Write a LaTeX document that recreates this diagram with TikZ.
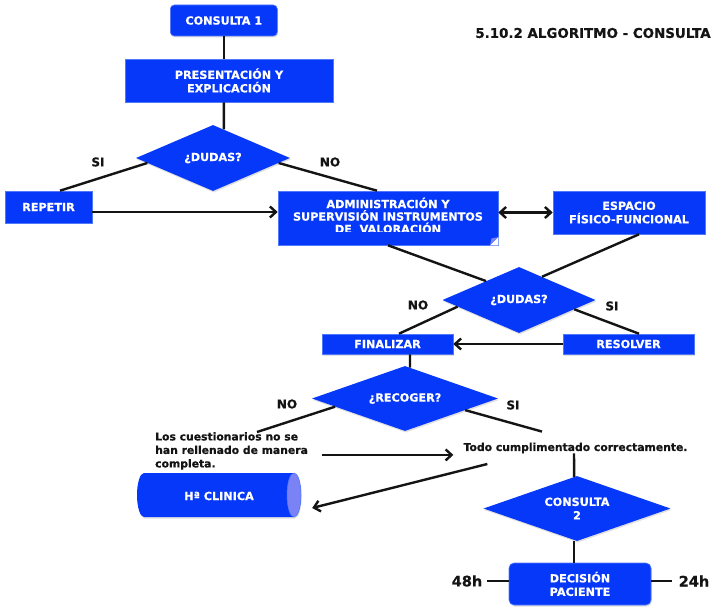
\documentclass[tikz,border=0pt]{standalone}
\usepackage{fontspec}
\setmainfont{DejaVu Sans}[BoldFeatures={FakeBold=0.6}]
\usetikzlibrary{shapes.geometric,arrows.meta,calc,shadows}
\definecolor{flowblue}{RGB}{6,56,250}
\definecolor{flowedge}{RGB}{80,120,250}
\definecolor{capblue}{RGB}{122,130,245}
\definecolor{ink}{RGB}{20,20,20}

\begin{document}
\begin{tikzpicture}[x=1pt,y=-1pt,
  wtxt/.style={text=white,font=\bfseries\fontsize{11.2}{13.5}\selectfont,align=center},
  soft/.style={drop shadow={opacity=0.25,shadow xshift=0.8pt,shadow yshift=-1.5pt}},
  block/.style={rectangle,fill=flowblue,draw=flowedge,line width=0.6pt,inner sep=0pt,wtxt,soft},
  rblock/.style={block,rounded corners=4pt},
  decide/.style={diamond,aspect=2.8,fill=flowblue,inner sep=0pt,wtxt,soft},
  lbl/.style={text=ink,font=\bfseries\fontsize{12}{14}\selectfont,inner sep=0pt},
  note/.style={text=ink,font=\bfseries\fontsize{10.8}{13.5}\selectfont,inner sep=0pt},
  hours/.style={text=ink,font=\bfseries\fontsize{14.5}{16}\selectfont,inner sep=0pt},
  link/.style={draw=ink,line width=2.4pt},
  arr/.style={link,-{Straight Barb[length=6pt,width=11pt]}},
  darr/.style={link,{Straight Barb[length=6pt,width=11pt]}-{Straight Barb[length=6pt,width=11pt]}},
]
\fill[white] (0,0) rectangle (717,612);
\useasboundingbox (0,0) rectangle (717,612);

% title
\node[text=ink,font=\bfseries\fontsize{13.4}{16}\selectfont,inner sep=0pt] (title) at (593,33) {5.10.2 ALGORITMO - CONSULTA};

% first block of steps
\node[rblock, minimum width=107pt, minimum height=31pt] (c1) at (223.8,20.5) {CONSULTA 1};
\node[block, minimum width=208pt, minimum height=43pt] (pres) at (229,80.5) {PRESENTACIÓN Y\\EXPLICACIÓN};
\node[decide, minimum width=154pt, minimum height=66pt] (d1) at (213,158) {¿DUDAS?};
\node[block, minimum width=87pt, minimum height=32pt] (rep) at (48.5,207) {REPETIR};

% administration box with its folded corner; the last text line runs past the text area
\node[block, minimum width=220pt, minimum height=54pt] (adm) at (388,218) {};
\begin{scope}
  \clip (278,191) rectangle (498,231.5);
  \node[wtxt, inner sep=0pt, font=\bfseries\fontsize{11.2}{12.5}\selectfont] (admtxt) at (388,215.5)
    {ADMINISTRACIÓN Y\\SUPERVISIÓN INSTRUMENTOS\\DE\ \ VALORACIÓN};
\end{scope}
\fill[white] (498.4,237) -- (498.4,245.4) -- (490,245.4) -- cycle;
\fill[capblue] (498.4,237) -- (490,245.4) -- (491.5,238.5) -- cycle;

\node[block, minimum width=152pt, minimum height=43pt] (esp) at (629,212.5) {ESPACIO\\FÍSICO-FUNCIONAL};
\node[decide, minimum width=153pt, minimum height=66pt] (d2) at (519,300) {¿DUDAS?};
\node[block, minimum width=131pt, minimum height=20pt] (fin) at (387.5,344) {FINALIZAR};
\node[block, minimum width=131pt, minimum height=20pt] (res) at (628.5,344) {RESOLVER};
\node[decide, minimum width=186pt, minimum height=65pt] (d3) at (405,398.5) {¿RECOGER?};

% outcome texts
\node[note, anchor=north west, align=left] (cuest) at (155,432)
  {Los cuestionarios no se\\han rellenado de manera\\completa.};
\node[note] (todo) at (575.5,448) {Todo cumplimentado correctamente.};

% clinical record drawn as a lying cylinder
\fill[flowblue, soft] (144,473) -- (294,473)
  arc[start angle=-90,end angle=90,x radius=7,y radius=22] -- (144,517)
  arc[start angle=90,end angle=270,x radius=7,y radius=22] -- cycle;
\filldraw[fill=capblue, draw=flowedge, line width=0.5pt] (294,495) ellipse[x radius=7,y radius=22];
\node[wtxt, minimum width=164pt, minimum height=44pt, inner sep=0pt] (hc) at (219,496) {Hª CLINICA};

\node[decide, minimum width=187pt, minimum height=65pt] (d4) at (577,508.5) {CONSULTA\\2};
\node[rblock, minimum width=142pt, minimum height=42pt, rounded corners=5pt] (dec) at (580,584) {DECISIÓN\\PACIENTE};
\node[hours] (h48) at (467,581) {48h};
\node[hours] (h24) at (694,581) {24h};

% branch labels
\node[lbl] (si1) at (98,162) {SI};
\node[lbl] (no1) at (330,162) {NO};
\node[lbl] (no2) at (418,305) {NO};
\node[lbl] (si2) at (612,306) {SI};
\node[lbl] (no3) at (287,404) {NO};
\node[lbl] (si3) at (513,405) {SI};

% connectors
\draw[link] (c1.south) -- (c1.south |- pres.north);
\draw[link] (pres.south -| c1.south) -- ($(d1.north)!0.14!(d1.east)$);
\draw[link] ($(d1.west)!0.15!(d1.south)$) -- ([xshift=11.5pt]rep.north);
\draw[link] ($(d1.east)!0.15!(d1.south)$) -- ([xshift=-11pt]adm.north);
\draw[arr] ([yshift=-5pt]rep.east) -- ([yshift=-5pt]rep.east -| adm.west);
\draw[darr] (esp.west -| adm.east) -- (esp.west);
\draw[link] (adm.south) -- ($(d2.north)!0.43!(d2.west)$);
\draw[link] ([xshift=10pt]esp.south) -- ($(d2.north)!0.3!(d2.east)$);
\draw[link] ($(d2.west)!0.2!(d2.south)$) -- ([xshift=11.5pt]fin.north);
\draw[link] ($(d2.east)!0.28!(d2.south)$) -- ([xshift=10.5pt]res.north);
\draw[arr] (res.west) -- (fin.east);
\draw[link] ([xshift=22.5pt]fin.south) -- ($(d3.north)!0.054!(d3.east)$);
\draw[link] ($(d3.west)!0.25!(d3.south)$) -- ([xshift=102pt]cuest.north west);
\draw[link] ($(d3.east)!0.355!(d3.south)$) -- ([xshift=-33.5pt,yshift=11pt]todo.north);
\draw[arr] ([xshift=14pt,yshift=-4pt]cuest.east) -- ([xshift=-10pt,yshift=-4pt]cuest.east -| todo.west);
\draw[link] ([xshift=-1.5pt]todo.south) -- ($(d4.north)!0.03!(d4.west)$);
\draw[arr] ([xshift=24pt,yshift=-16pt]todo.west) -- ([xshift=11pt,yshift=-12pt]hc.east);
\draw[link] ([xshift=-3pt]d4.south) -- ([xshift=-6pt]dec.north);
\draw[link] ([xshift=5pt]h48.east) -- (h48.east -| dec.west);
\draw[link] (h24.west -| dec.east) -- ([xshift=-7pt]h24.west);
\end{tikzpicture}
\end{document}
